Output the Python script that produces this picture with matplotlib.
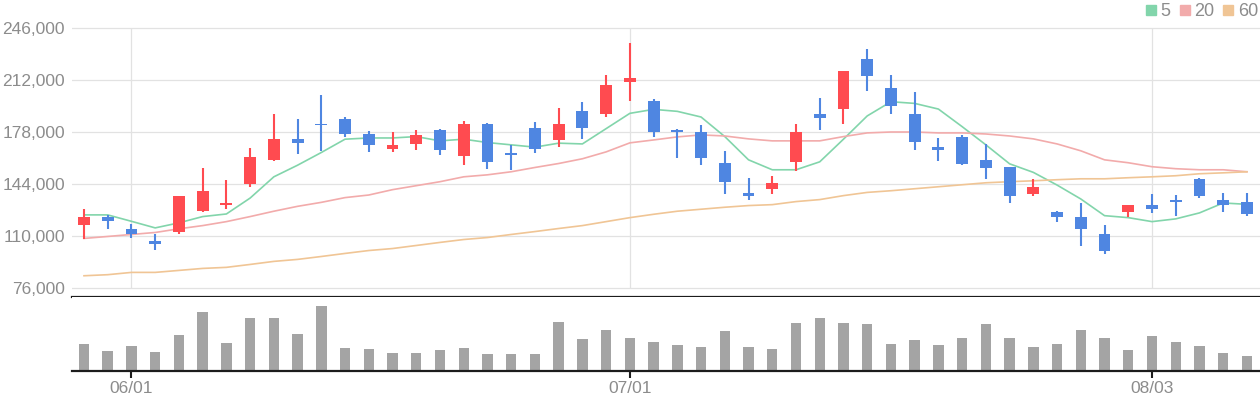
import matplotlib
matplotlib.use("Agg")
import matplotlib.pyplot as plt
from matplotlib.lines import Line2D

plt.rcParams['font.family'] = ['Liberation Sans', 'DejaVu Sans']

# ---- data ----
opens  = [117500, 122500, 114500, 107000, 112500, 126500, 130500, 144000, 160000, 173500,
          183500, 186500, 176500, 167000, 170000, 179000, 162000, 183500, 164000, 180500,
          172500, 191500, 190000, 210500, 198000, 179000, 178000, 157500, 138000, 140500,
          158500, 190000, 193000, 226000, 207000, 190000, 168500, 175000, 159500, 155000,
          137500, 125500, 122500, 111500, 125500, 130500, 133500, 147000, 133500, 132000]
highs  = [127500, 124000, 118000, 111500, 136000, 154500, 146500, 167500, 189500, 186500,
          202500, 187500, 178500, 178000, 179000, 180000, 185000, 184000, 169500, 184500,
          194000, 197500, 215000, 236500, 199500, 180000, 182500, 165500, 148000, 149000,
          183500, 200000, 218000, 232000, 215000, 204000, 174000, 176000, 170000, 155000,
          147000, 126500, 131500, 117500, 130500, 137500, 137000, 148000, 138000, 138000]
lows   = [108000, 114500, 109000, 101000, 111500, 125500, 127500, 142000, 159000, 163500,
          165500, 174500, 165000, 165000, 166000, 163000, 156500, 153500, 153000, 164000,
          168000, 173500, 188000, 198000, 174500, 161000, 156500, 137500, 133500, 137500,
          152500, 179000, 183500, 205000, 189500, 166000, 159000, 156500, 147000, 131500,
          136000, 119000, 103500, 98500, 122500, 125000, 123000, 135000, 125500, 123000]
closes = [122500, 119500, 111500, 105000, 136000, 139500, 131500, 161500, 173500, 170500,
          182500, 177000, 169500, 169500, 176000, 166000, 183500, 158500, 163000, 167000,
          183500, 180500, 208500, 213500, 178000, 178000, 161000, 145500, 136000, 144500,
          178000, 187000, 218000, 214500, 195000, 171500, 166000, 157000, 154500, 136000,
          142000, 122500, 114500, 100500, 130500, 127500, 132000, 136000, 130500, 124500]

ma5  = [123800, 123800, 119600, 115300, 118600, 122700, 124400, 134800, 148700, 156300,
        164600, 173300, 174100, 174100, 175000, 172200, 173300, 171100, 169600, 168100,
        170700, 170200, 180200, 190200, 192800, 191500, 187800, 175000, 159800, 153300,
        153300, 158500, 173300, 188500, 197800, 196700, 193000, 181500, 169600, 157200,
        151600, 143300, 134200, 123300, 122000, 119400, 121200, 125100, 131600, 130700]
ma20 = [108400, 109700, 111000, 112300, 114700, 116800, 119400, 122700, 126200, 129400,
        132000, 135100, 136800, 140300, 142900, 145500, 148700, 150000, 152000, 154800,
        157400, 160500, 165000, 170900, 172800, 174800, 176100, 175400, 173500, 172200,
        172200, 172200, 175000, 177400, 178000, 178000, 177400, 177400, 176700, 175400,
        173500, 170200, 165700, 159800, 157900, 155300, 154000, 153300, 153300, 152000]
ma60 = [84000, 84700, 86200, 86200, 87500, 88800, 89500, 91400, 93400, 94700,
        96600, 98600, 100500, 101800, 103800, 105800, 107700, 109000, 111000, 112900,
        114900, 116800, 119400, 122000, 124200, 126200, 127500, 128800, 129900, 130500,
        132500, 133800, 136400, 138500, 139600, 140900, 142200, 143500, 144800, 145500,
        146100, 146800, 147400, 147400, 148100, 148700, 149400, 150700, 151300, 152000]

volumes = [810, 600, 750, 570, 1080, 1770, 840, 1590, 1590, 1110,
           1950, 690, 660, 540, 540, 630, 690, 510, 510, 510,
           1470, 960, 1230, 990, 870, 780, 720, 1200, 720, 660,
           1440, 1590, 1440, 1410, 810, 930, 780, 990, 1410, 990,
           720, 810, 1230, 990, 630, 1050, 870, 750, 540, 450]

tick_idx = [2, 23, 45]
tick_labels = ['06/01', '07/01', '08/03']
ma_labels = ['5', '20', '60']
y_ticks = [76000, 110000, 144000, 178000, 212000, 246000]

# ---- style ----
UP = '#FF4B50'
DOWN = '#4F86E1'
VOL = '#A4A4A4'
MA_COLORS = ['#82D5AB', '#F2ABAB', '#F0C595']
GRID = '#E2E2E2'
TXT = '#8C8C8C'
AXIS = '#1C1C1C'

W, H = 1260, 400
fig = plt.figure(figsize=(W / 100, H / 100), dpi=100)

left = 72 / W
ax = fig.add_axes([left, 1 - 297 / H, 1 - left, (297 - 20) / H])
axv = fig.add_axes([left, 1 - 371 / H, 1 - left, (371 - 297) / H], sharex=ax)

n = len(closes)
idx = list(range(n))

# price panel
ax.set_ylim(70114, 251231)
ax.set_xlim(-0.505, n - 0.45)
ax.set_yticks(y_ticks)
ax.set_yticklabels([f'{v:,}' for v in y_ticks])
ax.grid(axis='y', color=GRID, lw=0.9, zorder=0)
ax.vlines(tick_idx, y_ticks[0], y_ticks[-1], color=GRID, lw=0.9, zorder=0)
ax.tick_params(axis='y', length=0, pad=5, labelsize=12.5, labelcolor=TXT)
ax.tick_params(axis='x', which='both', length=0, labelbottom=False)
for s in ['top', 'left', 'right']:
    ax.spines[s].set_visible(False)
ax.spines['bottom'].set_color(AXIS)
ax.spines['bottom'].set_linewidth(1.6)

for i, ma in enumerate([ma5, ma20, ma60]):
    ax.plot(idx, ma, color=MA_COLORS[i], lw=1.2, zorder=2)

colors = [UP if c >= o else DOWN for o, c in zip(opens, closes)]
ax.vlines(idx, lows, highs, colors=colors, lw=1.5, zorder=3)
bottoms = [min(o, c) for o, c in zip(opens, closes)]
heights = [max(abs(c - o), 900) for o, c in zip(opens, closes)]
ax.bar(idx, heights, bottom=bottoms, width=0.5, color=colors, zorder=4, linewidth=0)

# volume panel
axv.bar(idx, volumes, width=0.44, color=VOL, linewidth=0, zorder=2)
axv.set_ylim(0, max(volumes) * 223 / 195)
axv.set_yticks([])
for s in ['top', 'left', 'right']:
    axv.spines[s].set_visible(False)
axv.spines['bottom'].set_color(AXIS)
axv.spines['bottom'].set_linewidth(1.6)
axv.set_xticks(tick_idx)
axv.set_xticklabels(tick_labels)
axv.tick_params(axis='x', length=5, width=1.5, color=AXIS, pad=2,
                labelsize=12.5, labelcolor=TXT)

# legend
handles = [Line2D([], [], marker='s', linestyle='none', markersize=7.5,
                  markerfacecolor=c, markeredgecolor=c) for c in MA_COLORS]
fig.legend(handles, ma_labels, loc='upper right', bbox_to_anchor=(1258 / W, 1 - 3 / H),
           ncol=3, frameon=False, fontsize=13, labelcolor=TXT,
           handlelength=0.55, handletextpad=0.25, columnspacing=0.5,
           borderaxespad=0.0, borderpad=0.0)

fig.savefig('out.png', dpi=100, facecolor='white')
